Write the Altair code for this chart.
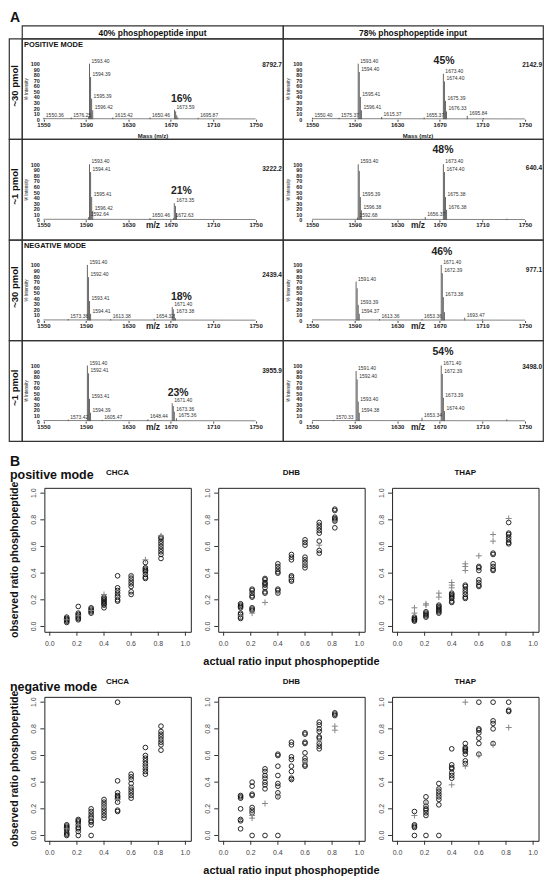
import altair as alt
import pandas as pd

FONT = "Liberation Sans"

# ---------------- Panel A data ----------------
SPEC_X_TICKS = [1550, 1590, 1630, 1670, 1710, 1750]
SPEC_Y_TICKS = [0, 10, 20, 30, 40, 50, 60, 70, 80, 90, 100]
BASELINE_MZ = [1550, 1750]
BASELINE_INT = [1.0, 0.5]

COL_HEADERS = ["40% phosphopeptide input", "78% phosphopeptide input"]
ROW_LABELS = ["~30 pmol", "~1 pmol", "~30 pmol", "~1 pmol"]
MODE_LABELS = ["POSITIVE MODE", "", "NEGATIVE MODE", ""]
X_TITLES = ["Mass (m/z)", "m/z", "m/z", "m/z"]

# positive mode, ~30 pmol, 40 %
S1_MZ = [1550.36, 1576.25, 1592.6, 1593.40, 1594.39, 1595.39, 1596.42, 1615.42, 1650.46, 1673.59, 1674.6, 1675.6, 1676.6, 1695.87]
S1_INT = [2.5, 3, 5, 100, 76, 37, 16, 3, 3, 17, 14, 7, 3, 2.5]
S1_LAB = ["1550.36", "1576.25", "", "1593.40", "1594.39", "1595.39", "1596.42", "1615.42", "1650.46", "1673.59", "", "", "", "1695.87"]
# positive mode, ~30 pmol, 78 %
S2_MZ = [1550.40, 1575.37, 1593.40, 1594.40, 1595.41, 1596.41, 1615.37, 1655.37, 1673.40, 1674.40, 1675.39, 1676.33, 1695.84, 1711.0]
S2_INT = [2.5, 2.5, 100, 85, 40, 16, 4, 3, 82, 68, 33, 14, 6, 2]
S2_LAB = ["1550.40", "1575.37", "1593.40", "1594.40", "1595.41", "1596.41", "1615.37", "1655.37", "1673.40", "1674.40", "1675.39", "1676.33", "1695.84", ""]
# positive mode, ~1 pmol, 40 %
S3_MZ = [1592.64, 1593.40, 1594.41, 1595.41, 1596.42, 1650.46, 1672.63, 1673.35, 1674.4, 1675.4]
S3_INT = [5, 100, 86, 41, 16, 3, 3, 30, 25, 12]
S3_LAB = ["1592.64", "1593.40", "1594.41", "1595.41", "1596.42", "1650.46", "1672.63", "1673.35", "", ""]
# positive mode, ~1 pmol, 78 %
S4_MZ = [1592.68, 1593.40, 1594.40, 1595.39, 1596.38, 1656.37, 1673.40, 1674.40, 1675.38, 1676.38, 1733.0]
S4_INT = [4, 100, 88, 41, 17, 5, 100, 86, 41, 18, 2]
S4_LAB = ["1592.68", "1593.40", "", "1595.39", "1596.38", "1656.37", "1673.40", "1674.40", "1675.38", "1676.38", ""]
# negative mode, ~30 pmol, 40 %
S5_MZ = [1573.36, 1591.40, 1592.40, 1593.41, 1594.41, 1613.38, 1654.32, 1671.40, 1672.4, 1673.38, 1674.4]
S5_INT = [2.5, 100, 78, 35, 12, 2.5, 3, 24, 20, 12, 4]
S5_LAB = ["1573.36", "1591.40", "1592.40", "1593.41", "1594.41", "1613.38", "1654.32", "1671.40", "", "1673.38", ""]
# negative mode, ~30 pmol, 78 %
S6_MZ = [1591.40, 1592.4, 1593.39, 1594.37, 1613.36, 1653.36, 1671.40, 1672.39, 1673.38, 1674.4, 1693.47, 1710.0]
S6_INT = [70, 58, 28, 12, 2.5, 2.5, 100, 85, 42, 15, 5, 2]
S6_LAB = ["1591.40", "", "1593.39", "1594.37", "1613.36", "1653.36", "1671.40", "1672.39", "1673.38", "", "1693.47", ""]
# negative mode, ~1 pmol, 40 %
S7_MZ = [1573.42, 1591.40, 1592.41, 1593.41, 1594.39, 1605.47, 1648.44, 1671.40, 1672.4, 1673.36, 1675.36]
S7_INT = [2.5, 100, 86, 40, 15, 2, 3, 32, 27, 17, 5]
S7_LAB = ["1573.42", "1591.40", "1592.41", "1593.41", "1594.39", "1605.47", "1648.44", "1671.40", "", "1673.36", "1675.36"]
# negative mode, ~1 pmol, 78 %
S8_MZ = [1570.33, 1591.40, 1592.40, 1593.40, 1594.38, 1653.34, 1671.40, 1672.39, 1673.39, 1674.40, 1733.0]
S8_INT = [2, 90, 75, 35, 15, 6, 100, 85, 42, 18, 3]
S8_LAB = ["1570.33", "1591.40", "1592.40", "1593.40", "1594.38", "1653.34", "1671.40", "1672.39", "1673.39", "1674.40", ""]

PCT_TEXT = ["16%", "45%", "21%", "48%", "18%", "46%", "23%", "54%"]
PCT_MZ = [1680, 1674, 1680, 1673, 1680, 1672, 1677, 1673]
PCT_Y = [37, 104, 51, 125, 42, 124, 51, 124]
MAX_TEXT = ["8792.7", "2142.9", "3222.2", "640.4", "2439.4", "977.1", "3955.9", "3498.0"]
MAX_Y = [98, 98, 91, 94, 82, 91, 90, 97]

SPECTRA = [(S1_MZ, S1_INT, S1_LAB), (S2_MZ, S2_INT, S2_LAB),
           (S3_MZ, S3_INT, S3_LAB), (S4_MZ, S4_INT, S4_LAB),
           (S5_MZ, S5_INT, S5_LAB), (S6_MZ, S6_INT, S6_LAB),
           (S7_MZ, S7_INT, S7_LAB), (S8_MZ, S8_INT, S8_LAB)]

# ---------------- Panel B data ----------------
RATIO_X = [0.125, 0.21, 0.305, 0.40, 0.50, 0.60, 0.705, 0.82]
B_TICKS = [0.0, 0.2, 0.4, 0.6, 0.8, 1.0]
B_DOMAIN = [-0.04, 1.04]
MATRICES = ["CHCA", "DHB", "THAP"]
B_XTITLE = "actual ratio input phosphopeptide"
B_YTITLE = "observed ratio phosphopeptide"

POS_CHCA_CIRC = [[0.03, 0.04, 0.05, 0.05, 0.06, 0.07], [0.05, 0.06, 0.07, 0.08, 0.09, 0.10, 0.15],
                 [0.10, 0.11, 0.12, 0.13, 0.14], [0.14, 0.16, 0.17, 0.18, 0.19, 0.20, 0.21, 0.22],
                 [0.19, 0.20, 0.22, 0.23, 0.25, 0.27, 0.29, 0.38], [0.24, 0.26, 0.30, 0.32, 0.34, 0.36, 0.38],
                 [0.36, 0.37, 0.39, 0.41, 0.42, 0.43, 0.44, 0.48], [0.51, 0.54, 0.56, 0.58, 0.60, 0.62, 0.64, 0.66, 0.67]]
POS_CHCA_CROSS = [[0.05], [0.08], [0.12], [0.24], [0.22], [0.38], [0.50], [0.68]]

POS_DHB_CIRC = [[0.06, 0.07, 0.09, 0.10, 0.14, 0.15, 0.16, 0.17], [0.12, 0.13, 0.14, 0.22, 0.23, 0.25, 0.27, 0.28],
                [0.25, 0.26, 0.29, 0.31, 0.32, 0.33, 0.35, 0.36], [0.25, 0.27, 0.28, 0.40, 0.41, 0.43, 0.45, 0.47],
                [0.34, 0.35, 0.37, 0.38, 0.50, 0.52, 0.54], [0.44, 0.46, 0.48, 0.50, 0.52, 0.61, 0.63, 0.65],
                [0.55, 0.57, 0.64, 0.70, 0.72, 0.74, 0.76, 0.78], [0.74, 0.79, 0.80, 0.81, 0.82, 0.87, 0.88]]
POS_DHB_CROSS = [[0.08], [0.10], [0.18], [0.25], [0.36], [0.47], [0.61], [0.79]]

POS_THAP_CIRC = [[0.04, 0.05, 0.05, 0.06, 0.07], [0.07, 0.08, 0.09, 0.10, 0.11],
                 [0.10, 0.11, 0.12, 0.13, 0.14, 0.15, 0.16], [0.18, 0.19, 0.21, 0.22, 0.23, 0.24, 0.25],
                 [0.21, 0.22, 0.24, 0.26, 0.28, 0.30, 0.31], [0.30, 0.31, 0.33, 0.35, 0.42, 0.44, 0.45],
                 [0.42, 0.43, 0.45, 0.47, 0.54, 0.55], [0.62, 0.63, 0.65, 0.67, 0.69, 0.70, 0.78]]
POS_THAP_CROSS = [[0.10, 0.14], [0.16, 0.17], [0.22, 0.25], [0.29, 0.31, 0.33], [0.42, 0.45, 0.47],
                  [0.53], [0.64, 0.69], [0.81]]

NEG_CHCA_CIRC = [[0.0, 0.01, 0.02, 0.04, 0.05, 0.06, 0.07, 0.08], [0.0, 0.03, 0.05, 0.06, 0.08, 0.10, 0.11, 0.12],
                 [0.0, 0.08, 0.10, 0.11, 0.13, 0.14, 0.16, 0.18, 0.20], [0.13, 0.15, 0.17, 0.19, 0.21, 0.23, 0.25, 0.27],
                 [0.18, 0.19, 0.25, 0.28, 0.29, 0.30, 0.32, 0.41, 1.0], [0.28, 0.30, 0.32, 0.34, 0.36, 0.39, 0.42, 0.44, 0.46],
                 [0.46, 0.48, 0.50, 0.52, 0.54, 0.56, 0.58, 0.60, 0.66], [0.64, 0.68, 0.70, 0.72, 0.74, 0.76, 0.78, 0.82]]
NEG_CHCA_CROSS = [[0.05], [0.08], [0.13], [0.22], [0.27], [0.36], [0.52], [0.72]]

NEG_DHB_CIRC = [[0.05, 0.11, 0.12, 0.20, 0.28, 0.29, 0.30], [0.0, 0.17, 0.19, 0.21, 0.30, 0.31, 0.37, 0.40],
                [0.0, 0.35, 0.38, 0.40, 0.43, 0.45, 0.48, 0.50], [0.0, 0.29, 0.32, 0.37, 0.39, 0.45, 0.52, 0.60, 0.61],
                [0.42, 0.43, 0.48, 0.52, 0.57, 0.59, 0.68, 0.70], [0.52, 0.53, 0.56, 0.58, 0.62, 0.69, 0.70, 0.76, 0.77],
                [0.65, 0.67, 0.69, 0.73, 0.74, 0.78, 0.80, 0.83, 0.85], [0.90, 0.91, 0.92]]
NEG_DHB_CROSS = [[0.12], [0.13, 0.15], [0.24], [0.30], [0.42], [0.55], [0.71], [0.79, 0.82]]

NEG_THAP_CIRC = [[0.0, 0.06, 0.07, 0.08, 0.18], [0.0, 0.15, 0.17, 0.19, 0.20, 0.22, 0.25, 0.29],
                 [0.0, 0.23, 0.27, 0.29, 0.31, 0.33, 0.35, 0.39], [0.43, 0.45, 0.47, 0.50, 0.51, 0.53, 0.65],
                 [0.54, 0.56, 0.61, 0.63, 0.64, 0.65, 0.66, 0.69], [0.61, 0.69, 0.73, 0.77, 0.79, 0.80, 1.0],
                 [0.69, 0.80, 0.84, 0.86, 1.0], [0.93, 0.94, 1.0]]
NEG_THAP_CROSS = [[0.15], [0.24], [0.29, 0.35], [0.38], [0.52, 1.0], [0.60], [0.68], [0.81]]

# ---------------- layout constants ----------------
LABEL_W = 13
CELL_W = [262, 261]
CELL_H = 101
HEAD_H = 13
BORDER = alt.ViewBackground(stroke="#333", strokeWidth=1.2)
NOBORDER = alt.ViewBackground(stroke="transparent")


def txt(t, x, y, size, **extra):
    return alt.Chart(pd.DataFrame({"t": [t]})).mark_text(
        fontSize=size, fontWeight="bold", font=FONT, color="#111", **extra
    ).encode(text="t:N", x=alt.value(x), y=alt.value(y))


def spectrum_cell(i, row, col):
    mz, inten, lab = SPECTRA[i]
    w = CELL_W[col]
    xdom = [1529.7, 1775.8] if col == 0 else [1522.7, 1767.0]
    ydom = [-35.9, 145.3]
    xs = alt.Scale(domain=xdom, nice=False, zero=False)
    ys = alt.Scale(domain=ydom, nice=False, zero=False)
    xtitle = X_TITLES[row]
    big = xtitle.startswith("Mass")
    x_axis = alt.Axis(values=SPEC_X_TICKS, format="d", offset=-20, domain=False, ticks=True,
                      tickSize=2, tickColor="#444", labelPadding=0, labelFontSize=6,
                      labelFontWeight="bold", labelColor="#222", labelFlush=False,
                      labelOverlap=False, grid=False, labelFont=FONT,
                      title=xtitle, titleFontSize=6 if big else 8.5, titleFontWeight="bold",
                      titleColor="#222", titleY=13 if big else 1, titleBaseline="top", titleFont=FONT,
                      titleX=131 if col == 0 else 135)
    y_axis = alt.Axis(values=SPEC_Y_TICKS, offset=-(19.5 if col == 0 else 21), domain=False,
                      ticks=False, tickSize=0, labelPadding=2, labelFontSize=5.5,
                      labelFontWeight="bold", labelColor="#222", labelOverlap=False,
                      labelFlush=False, grid=False, labelFont=FONT,
                      title="% Intensity", titleFontSize=4.5, titleFontWeight="normal",
                      titleColor="#222", titlePadding=2, titleFont=FONT)

    def X():
        return alt.X("mz:Q", scale=xs, axis=x_axis)

    def Y():
        return alt.Y("intensity:Q", scale=ys, axis=y_axis)

    df = pd.DataFrame({"mz": mz, "intensity": inten, "label": lab})
    base_df = pd.DataFrame({"mz": BASELINE_MZ, "intensity": BASELINE_INT})
    baseline = alt.Chart(base_df).mark_line(color="#666", strokeWidth=0.8).encode(x=X(), y=Y())
    peaks = alt.Chart(df).mark_rule(color="#555", strokeWidth=0.9).encode(
        x=X(), y=Y(), y2=alt.datum(0))
    labels = alt.Chart(df).mark_text(align="left", baseline="bottom", dx=2, fontSize=5,
                                     color="#333", font=FONT).encode(x=X(), y=Y(), text="label:N")
    pct_df = pd.DataFrame({"mz": [PCT_MZ[i]], "intensity": [PCT_Y[i]], "t": [PCT_TEXT[i]]})
    pct = alt.Chart(pct_df).mark_text(fontSize=10.5, fontWeight="bold", color="#222", font=FONT,
                                      baseline="middle").encode(x=X(), y=Y(), text="t:N")
    max_df = pd.DataFrame({"intensity": [MAX_Y[i]], "t": [MAX_TEXT[i]]})
    maxi = alt.Chart(max_df).mark_text(align="right", baseline="middle", fontSize=6.5,
                                       fontWeight="bold", color="#222", font=FONT).encode(
        x=alt.value(w - 1), y=Y(), text="t:N")
    layers = [baseline, peaks, labels, pct, maxi]
    if col == 0 and MODE_LABELS[row]:
        layers.append(txt(MODE_LABELS[row], 2, 6.5, 7.5, align="left", baseline="middle"))
    return alt.layer(*layers).properties(width=w, height=CELL_H, view=BORDER)


def row_label_cell(row):
    return txt(ROW_LABELS[row], LABEL_W / 2, CELL_H * 0.47, 9.5, angle=270, baseline="middle").properties(
        width=LABEL_W, height=CELL_H, view=BORDER)


def header_cell(col):
    return txt(COL_HEADERS[col], CELL_W[col] / 2, HEAD_H / 2 + 0.5, 8.5, baseline="middle").properties(
        width=CELL_W[col], height=HEAD_H, view=BORDER)


corner = txt("A", 1, -4, 14, align="left", baseline="alphabetic").properties(
    width=LABEL_W, height=HEAD_H, view=NOBORDER)

a_units = [corner, header_cell(0), header_cell(1)]
for r in range(4):
    a_units += [row_label_cell(r), spectrum_cell(2 * r, r, 0), spectrum_cell(2 * r + 1, r, 1)]
panel_a = alt.concat(*a_units, columns=3, spacing=0, bounds="flush")

# ---------------- Panel B ----------------
PLOT_W = 147
PLOT_H = 144.5
SPACER_W = 8
COL_GAP = 27.5
TICK = 4


def scatter(circ, cross, show_xtitle):
    cdf = pd.DataFrame([(RATIO_X[k], v) for k, g in enumerate(circ) for v in g], columns=["actual", "obs"])
    xdf = pd.DataFrame([(RATIO_X[k], v) for k, g in enumerate(cross) for v in g], columns=["actual", "obs"])
    xs = alt.Scale(domain=B_DOMAIN, nice=False, zero=False)
    ys = alt.Scale(domain=B_DOMAIN, nice=False, zero=False)
    X = alt.X("actual:Q", scale=xs, axis=None)
    Y = alt.Y("obs:Q", scale=ys, axis=None)

    xt_df = pd.DataFrame({"actual": B_TICKS})
    yt_df = pd.DataFrame({"obs": B_TICKS})
    # tick marks (R style, outside the box) and tick labels, placed through the scales
    xticks = alt.Chart(xt_df).mark_rule(color="#333", strokeWidth=1).encode(
        x=X, y=alt.value(PLOT_H), y2=alt.value(PLOT_H + TICK))
    yticks = alt.Chart(yt_df).mark_rule(color="#333", strokeWidth=1).encode(
        y=Y, x=alt.value(0), x2=alt.value(-TICK))
    xlabels = alt.Chart(xt_df).mark_text(baseline="top", fontSize=7, color="#444", font=FONT).encode(
        x=X, y=alt.value(PLOT_H + TICK + 4), text=alt.Text("actual:Q", format=".1f"))
    ylabels = alt.Chart(yt_df).mark_text(angle=270, align="center", baseline="bottom", fontSize=7,
                                         color="#444", font=FONT).encode(
        y=Y, x=alt.value(-TICK - 3), text=alt.Text("obs:Q", format=".1f"))
    circles = alt.Chart(cdf).mark_point(shape="circle", filled=False, size=22, color="#111",
                                        strokeWidth=0.9, opacity=1).encode(x=X, y=Y)
    crosses = alt.Chart(xdf).mark_point(shape="M-1,0L1,0M0,-1L0,1", filled=False, size=36, color="#888",
                                        strokeWidth=1, opacity=1).encode(x=X, y=Y)
    layers = [xticks, yticks, xlabels, ylabels, circles, crosses]
    if show_xtitle:
        layers.append(txt(B_XTITLE, PLOT_W / 2, PLOT_H + 24, 11, baseline="top"))
    return alt.layer(*layers).properties(
        width=PLOT_W, height=PLOT_H, view=alt.ViewBackground(stroke="#222", strokeWidth=1))


def spacer(extra_layers):
    ytitle = txt(B_YTITLE, 6, PLOT_H / 2, 10.5, angle=270, baseline="middle")
    mats = [txt(m, SPACER_W + COL_GAP + PLOT_W / 2 + k * (PLOT_W + COL_GAP), -13, 8, baseline="alphabetic")
            for k, m in enumerate(MATRICES)]
    return alt.layer(ytitle, *mats, *extra_layers).properties(width=SPACER_W, height=PLOT_H, view=NOBORDER)


b_units = [
    spacer([txt("B", 1, -21.7, 14, align="left", baseline="alphabetic"),
            txt("positive mode", 1, -8.4, 12.5, align="left", baseline="alphabetic")]),
    scatter(POS_CHCA_CIRC, POS_CHCA_CROSS, False),
    scatter(POS_DHB_CIRC, POS_DHB_CROSS, True),
    scatter(POS_THAP_CIRC, POS_THAP_CROSS, False),
    spacer([txt("negative mode", 1, -6, 12.5, align="left", baseline="alphabetic")]),
    scatter(NEG_CHCA_CIRC, NEG_CHCA_CROSS, False),
    scatter(NEG_DHB_CIRC, NEG_DHB_CROSS, True),
    scatter(NEG_THAP_CIRC, NEG_THAP_CROSS, False),
]
panel_b = alt.concat(*b_units, columns=4, spacing={"row": 64.8, "column": COL_GAP}, bounds="flush")

chart = alt.vconcat(panel_a, panel_b, spacing=12).properties(padding=0).configure(font=FONT)

chart.save("out.html", embed_options={"renderer": "svg", "actions": False})
